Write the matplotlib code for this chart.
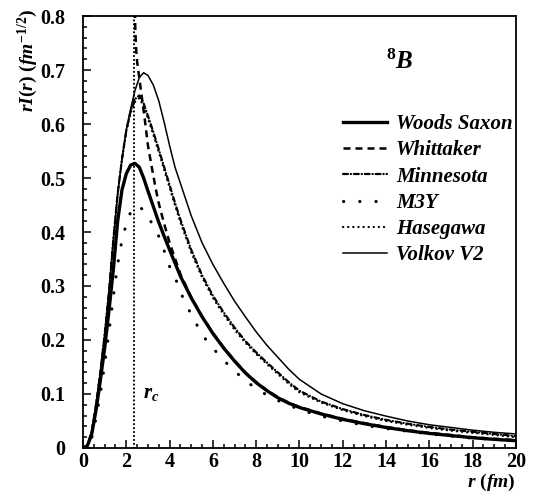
import numpy as np
import matplotlib
matplotlib.use("Agg")
import matplotlib.pyplot as plt
from matplotlib.ticker import MultipleLocator

plt.rcParams['font.family'] = ['Liberation Serif', 'DejaVu Serif']
plt.rcParams['font.weight'] = 'bold'
plt.rcParams['mathtext.fontset'] = 'custom'
plt.rcParams['mathtext.it'] = 'Liberation Serif:italic:bold'
plt.rcParams['mathtext.rm'] = 'Liberation Serif:bold'
plt.rcParams['mathtext.bf'] = 'Liberation Serif:bold'

# values
r_ws = [0.0, 0.2, 0.4, 0.6, 0.8, 1.0, 1.2, 1.4, 1.6, 1.8, 2.0, 2.2, 2.4, 2.6, 2.8, 3.0, 3.25, 3.5, 3.75,
        4.0, 4.5, 5.0, 5.5, 6.0, 6.5, 7.0, 7.5, 8.0, 8.5, 9.0, 9.5, 10, 11, 12, 13, 14, 15, 16, 17, 18, 19, 20]
woods_saxon = [0, 0.004, 0.025, 0.07, 0.125, 0.185, 0.255, 0.33, 0.42, 0.478, 0.508, 0.524, 0.527, 0.52, 0.5,
               0.476, 0.447, 0.418, 0.392, 0.367, 0.318, 0.278, 0.243, 0.212, 0.185, 0.161, 0.139, 0.121,
               0.106, 0.093, 0.083, 0.075, 0.063, 0.053, 0.045, 0.038, 0.032, 0.027, 0.023, 0.019, 0.016, 0.0135]

r_wh = [2.34, 2.38, 2.42, 2.46, 2.5, 2.6, 2.7, 2.85, 3.0, 3.2, 3.35, 3.5, 3.75, 4.0, 4.5, 5.0, 5.5, 6.0,
        6.5, 7.0, 7.5, 8.0, 8.5, 9.0, 9.5, 10, 11, 12, 13, 14, 15, 16, 17, 18, 19, 20]
whittaker = [0.95, 0.84, 0.77, 0.735, 0.715, 0.685, 0.655, 0.61, 0.56, 0.515, 0.482, 0.453, 0.415, 0.38,
             0.322, 0.279, 0.244, 0.213, 0.186, 0.162, 0.14, 0.122, 0.107, 0.094, 0.084, 0.076, 0.064,
             0.054, 0.046, 0.039, 0.033, 0.028, 0.024, 0.02, 0.017, 0.0145]

r_up = [0.0, 0.2, 0.4, 0.6, 0.8, 1.0, 1.2, 1.4, 1.6, 1.8, 2.0, 2.2, 2.4, 2.6, 2.8, 3.0, 3.25, 3.5, 3.75,
        4.0, 4.25, 4.5, 5.0, 5.5, 6.0, 6.5, 7.0, 7.5, 8.0, 8.5, 9.0, 9.5, 10, 11, 12, 13, 14, 15, 16, 17,
        18, 19, 20]
minnesota = [0, 0.005, 0.03, 0.08, 0.14, 0.21, 0.29, 0.385, 0.47, 0.535, 0.588, 0.624, 0.646, 0.653, 0.638,
             0.615, 0.585, 0.553, 0.52, 0.487, 0.454, 0.423, 0.367, 0.32, 0.282, 0.251, 0.223, 0.198,
             0.177, 0.158, 0.14, 0.122, 0.106, 0.086, 0.072, 0.061, 0.052, 0.045, 0.039, 0.034, 0.03,
             0.026, 0.022]
hasegawa = [0, 0.005, 0.03, 0.08, 0.14, 0.21, 0.29, 0.385, 0.47, 0.535, 0.586, 0.62, 0.641, 0.648, 0.633,
            0.61, 0.58, 0.548, 0.515, 0.482, 0.449, 0.418, 0.362, 0.316, 0.278, 0.247, 0.219, 0.195,
            0.174, 0.155, 0.137, 0.119, 0.103, 0.084, 0.07, 0.059, 0.05, 0.043, 0.037, 0.032, 0.028,
            0.024, 0.02]
volkov = [0, 0.005, 0.03, 0.08, 0.14, 0.21, 0.29, 0.385, 0.47, 0.535, 0.59, 0.628, 0.662, 0.686, 0.695,
          0.69, 0.672, 0.643, 0.603, 0.56, 0.52, 0.49, 0.43, 0.38, 0.34, 0.305, 0.272, 0.243, 0.215, 0.19,
          0.168, 0.146, 0.127, 0.1, 0.082, 0.069, 0.059, 0.05, 0.043, 0.038, 0.033, 0.029, 0.026]

r_m3y = [0.0, 0.2, 0.4, 0.6, 0.8, 1.0, 1.2, 1.4, 1.6, 1.8, 2.0, 2.2, 2.4, 2.6, 2.8, 3.1, 3.5, 3.75, 4.0,
         4.33, 4.6, 4.94, 5.3, 5.7, 6.24, 6.8, 7.35, 7.95, 8.5, 9, 10, 11, 12, 13, 14, 15, 16, 17, 18, 19, 20]
m3y = [0, 0.0, 0.018, 0.055, 0.1, 0.155, 0.215, 0.28, 0.34, 0.385, 0.415, 0.437, 0.447, 0.447, 0.44, 0.422,
       0.392, 0.365, 0.336, 0.308, 0.28, 0.252, 0.225, 0.199, 0.174, 0.15, 0.13, 0.111, 0.098, 0.088,
       0.071, 0.059, 0.05, 0.042, 0.036, 0.031, 0.026, 0.022, 0.018, 0.016, 0.013]

r_c = 2.36


def main():
    fig = plt.figure(figsize=(5.38, 4.96), dpi=100)
    ax = fig.add_axes([0.1543, 0.0968, 0.8047, 0.8709])

    ax.plot(r_ws, woods_saxon, color='k', lw=2.4, label='Woods Saxon')
    ax.plot(r_wh, whittaker, color='k', lw=1.8, linestyle=(0, (2.8, 2.0)), label='Whittaker')
    ax.plot(r_up, minnesota, color='k', lw=1.6, linestyle=(0, (2.2, 1.3, 0.1, 1.3)),
            dash_capstyle='round', label='Minnesota')
    ax.plot(r_m3y, m3y, color='k', lw=2.2, linestyle=(0, (0.1, 5.2)), dash_capstyle='round', label='M3Y')
    ax.plot(r_up, hasegawa, color='k', lw=1.6, linestyle=(0, (0.1, 2.2)), dash_capstyle='round',
            label='Hasegawa')
    ax.plot(r_up, volkov, color='k', lw=1.1, label='Volkov V2')

    ax.axvline(r_c, color='k', lw=1.5, linestyle=(0, (0.1, 1.8)), dash_capstyle='round')

    ax.set_xlim(0, 20)
    ax.set_ylim(0, 0.8)
    ax.xaxis.set_major_locator(MultipleLocator(2))
    ax.xaxis.set_minor_locator(MultipleLocator(0.5))
    ax.yaxis.set_minor_locator(MultipleLocator(0.02))
    ax.set_yticks(np.arange(0, 0.81, 0.1))
    ax.set_yticklabels(['0', '0.1', '0.2', '0.3', '0.4', '0.5', '0.6', '0.7', '0.8'])
    ax.tick_params(which='both', direction='in', top=False, right=False, width=1.1, labelsize=14.5)
    ax.tick_params(which='major', length=6)
    ax.tick_params(which='minor', length=3)
    ax.tick_params(axis='x', which='major', pad=3)
    ax.tick_params(axis='y', which='major', pad=13)
    for s in ax.spines.values():
        s.set_linewidth(1.3)

    ax.text(-0.127, 0.898, r'$rI(r)\ (fm^{-1/2})$', transform=ax.transAxes, rotation=90,
            ha='center', va='center', fontsize=14)
    ax.text(1.0, -0.08, r'$r\ (fm)$', transform=ax.transAxes, ha='right', va='center', fontsize=14)
    ax.text(14.64, 0.715, r'$^{8}B$', ha='center', va='center', fontsize=18)
    ax.text(3.14, 0.102, r'$r_c$', ha='center', va='center', fontsize=15)

    ax.legend(loc='upper left', bbox_to_anchor=(0.6, 0.773), frameon=False,
              prop={'style': 'italic', 'weight': 'bold', 'size': 15},
              handlelength=2.1, handletextpad=0.45, labelspacing=0.3, borderpad=0, borderaxespad=0)

    fig.savefig('out.png', dpi=100)


if __name__ == '__main__':
    main()
